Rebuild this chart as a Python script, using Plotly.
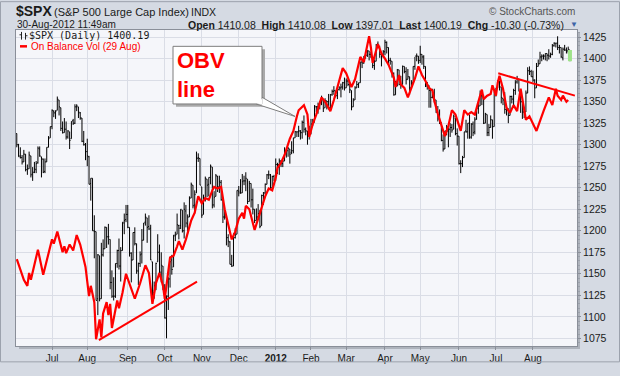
import plotly.graph_objects as go
import pandas as pd

# ---------------- data (S&P 500 daily bars, 3-Jun-2011 .. 30-Aug-2012) ----------------
open_ = [
    # Jun 2011
    1313,1300,1287,1285,1280,1289,1271,1272,1287,1266,1268,1271,1279,1295,1286,1283,1269,1280,1297,1308,
    # Jul 2011
    1321,1339,1337,1340,1352,1343,1319,1314,1318,1309,1315,1307,1328,1325,1344,1344,1337,1331,1304,1300,
    # Aug 2011
    1292,1286,1255,1261,1200,1199,1121,1171,1121,1172,1179,1204,1193,1190,1140,1124,1124,1162,1177,1159,1177,1209,1213,
    # Sep 2011
    1219,1204,1174,1166,1198,1185,1153,1162,1173,1189,1210,1215,1205,1203,1164,1128,1137,1164,1175,1152,1159,
    # Oct 2011
    1131,1098,1124,1144,1166,1158,1194,1196,1206,1206,1224,1200,1223,1208,1216,1238,1253,1230,1244,1284,1284,
    # Nov 2011
    1251,1219,1238,1260,1254,1262,1274,1230,1240,1263,1251,1256,1236,1216,1216,1192,1187,1161,1159,1192,1196,
    # Dec 2011
    1246,1246,1244,1258,1258,1260,1234,1255,1236,1225,1212,1216,1220,1206,1241,1244,1254,1265,1265,1250,1263,
    # Jan 2012
    1258,1277,1277,1281,1278,1281,1292,1293,1295,1291,1293,1308,1315,1315,1316,1314,1326,1318,1316,1313,
    # Feb 2012
    1312,1324,1326,1344,1344,1347,1350,1351,1343,1351,1350,1343,1358,1362,1362,1357,1364,1366,1367,1372,
    # Mar 2012
    1366,1374,1370,1363,1344,1352,1366,1370,1372,1396,1395,1403,1404,1409,1405,1402,1392,1397,1417,1413,1405,1404,
    # Apr 2012
    1408,1419,1413,1398,1397,1383,1358,1368,1387,1370,1370,1391,1385,1376,1379,1366,1372,1391,1403,1403,
    # May 2012
    1398,1405,1402,1391,1368,1369,1363,1355,1354,1352,1338,1330,1325,1305,1295,1316,1316,1318,1320,1318,1331,1313,
    # Jun 2012
    1310,1278,1278,1285,1316,1315,1325,1309,1324,1315,1330,1342,1345,1357,1355,1325,1335,1314,1320,1329,1321,
    # Jul 2012
    1362,1366,1374,1367,1354,1352,1341,1342,1334,1356,1353,1363,1373,1376,1362,1350,1338,1338,1360,1386,1385,
    # Aug 2012
    1379,1375,1366,1391,1394,1402,1403,1403,1406,1404,1403,1405,1415,1418,1418,1413,1413,1401,1411,1410,1409,1410.08,
]
high = [
    1313,1301,1297,1288,1294,1289,1277,1292,1287,1274,1280,1281,1298,1298,1286,1284,1284,1297,1310,1321,
    1341,1340,1340,1356,1352,1343,1327,1331,1327,1317,1315,1327,1330,1347,1347,1344,1338,1331,1316,1302,
    1307,1287,1261,1261,1218,1199,1173,1171,1186,1190,1205,1204,1208,1190,1154,1146,1162,1178,1191,1181,1210,1220,1230,
    1230,1204,1175,1198,1204,1185,1163,1176,1202,1209,1220,1215,1218,1207,1164,1141,1163,1196,1184,1175,1159,
    1138,1125,1146,1165,1172,1195,1199,1220,1207,1225,1224,1233,1230,1219,1240,1256,1253,1247,1292,1290,1284,
    1251,1242,1263,1260,1262,1277,1274,1246,1266,1264,1264,1259,1238,1224,1216,1196,1188,1172,1197,1203,1247,
    1252,1260,1266,1264,1268,1260,1258,1255,1249,1225,1226,1231,1224,1242,1245,1255,1266,1270,1266,1264,1265,
    1284,1279,1284,1282,1282,1297,1294,1297,1295,1304,1308,1316,1315,1322,1317,1328,1334,1320,1316,1322,
    1330,1330,1346,1345,1349,1351,1357,1351,1354,1351,1359,1359,1364,1368,1363,1364,1368,1371,1373,1378,
    1377,1376,1370,1363,1354,1368,1374,1372,1396,1399,1403,1405,1410,1409,1408,1402,1399,1417,1420,1415,1405,1410,
    1422,1420,1413,1401,1397,1384,1374,1388,1387,1380,1392,1391,1390,1388,1379,1375,1391,1402,1406,1403,
    1415,1405,1404,1391,1373,1369,1363,1365,1365,1352,1345,1341,1326,1312,1316,1323,1320,1325,1324,1335,1331,1319,
    1310,1282,1287,1315,1329,1325,1335,1325,1327,1332,1343,1348,1363,1361,1358,1337,1335,1324,1334,1329,1362,
    1366,1375,1374,1367,1354,1361,1345,1342,1357,1357,1365,1375,1380,1376,1362,1351,1344,1363,1390,1391,1387,
    1386,1376,1395,1399,1408,1405,1405,1406,1406,1411,1407,1417,1419,1418,1426,1416,1413,1413,1416,1413,1414,1410.08,
]
low = [
    1297,1286,1284,1277,1280,1269,1265,1272,1262,1258,1267,1267,1278,1286,1262,1267,1267,1280,1297,1308,
    1318,1332,1330,1340,1334,1316,1313,1314,1306,1307,1295,1307,1323,1324,1339,1331,1329,1303,1299,1282,
    1275,1254,1235,1200,1168,1119,1102,1118,1121,1170,1179,1180,1184,1132,1122,1119,1122,1157,1155,1141,1177,1196,1210,
    1203,1170,1140,1166,1183,1150,1137,1158,1162,1189,1206,1186,1201,1166,1115,1121,1131,1164,1150,1140,1131,
    1098,1075,1108,1134,1149,1158,1188,1196,1190,1202,1198,1191,1204,1197,1216,1238,1226,1220,1244,1280,1253,
    1215,1219,1234,1239,1240,1254,1226,1227,1240,1245,1244,1235,1209,1213,1183,1181,1161,1158,1159,1191,1196,
    1240,1243,1244,1253,1246,1231,1234,1227,1219,1209,1212,1215,1203,1206,1230,1242,1254,1260,1248,1250,1258,
    1258,1266,1265,1274,1274,1281,1285,1286,1278,1289,1290,1308,1309,1309,1306,1307,1314,1311,1300,1306,
    1312,1322,1326,1338,1336,1341,1346,1338,1343,1341,1341,1341,1357,1358,1355,1353,1363,1355,1364,1363,
    1366,1368,1360,1340,1344,1352,1366,1366,1372,1389,1394,1400,1402,1398,1401,1389,1387,1397,1412,1401,1391,1401,
    1404,1406,1394,1393,1378,1357,1358,1368,1369,1365,1370,1383,1370,1376,1358,1366,1372,1387,1397,1394,
    1395,1393,1388,1367,1364,1343,1343,1354,1349,1337,1327,1324,1304,1292,1295,1311,1297,1309,1314,1318,1311,1299,
    1277,1267,1274,1285,1314,1307,1307,1307,1310,1312,1329,1336,1345,1346,1324,1325,1310,1310,1320,1307,1321,
    1356,1366,1363,1348,1346,1336,1334,1325,1334,1348,1345,1358,1371,1362,1337,1330,1331,1338,1360,1381,1379,
    1373,1354,1366,1391,1394,1397,1399,1398,1397,1399,1401,1404,1414,1413,1410,1406,1401,1398,1409,1406,1406,1397.01,
]
close = [
    1300,1286,1285,1280,1289,1271,1272,1288,1265,1268,1272,1278,1296,1287,1284,1268,1280,1297,1307,1321,
    1340,1337,1339,1353,1344,1319,1314,1318,1309,1316,1305,1327,1325,1344,1345,1338,1331,1304,1300,1292,
    1287,1254,1261,1200,1199,1119,1172,1121,1172,1179,1204,1193,1193,1140,1124,1124,1162,1177,1159,1177,1210,1212,1219,
    1204,1174,1166,1198,1185,1154,1162,1172,1189,1209,1216,1204,1202,1166,1130,1136,1162,1175,1151,1160,1131,
    1099,1124,1144,1164,1155,1195,1195,1207,1203,1225,1200,1225,1209,1216,1238,1254,1229,1242,1285,1285,1253,
    1218,1237,1261,1253,1262,1275,1230,1239,1264,1251,1257,1236,1216,1216,1192,1188,1161,1159,1192,1195,1247,
    1244,1244,1257,1258,1261,1234,1255,1236,1225,1212,1216,1220,1205,1241,1244,1254,1265,1265,1250,1263,1258,
    1277,1277,1281,1278,1281,1292,1293,1296,1289,1293,1308,1315,1315,1316,1314,1326,1318,1316,1313,1312,
    1324,1325,1345,1344,1347,1350,1352,1342,1351,1350,1343,1358,1362,1363,1357,1364,1366,1367,1372,1366,
    1374,1370,1364,1344,1352,1366,1370,1372,1396,1395,1403,1404,1409,1405,1402,1392,1397,1416,1413,1405,1403,1408,
    1419,1413,1398,1398,1383,1358,1368,1387,1370,1370,1391,1385,1376,1379,1366,1371,1391,1403,1403,1398,
    1405,1402,1391,1369,1369,1363,1355,1357,1353,1338,1330,1325,1305,1295,1316,1316,1318,1320,1317,1333,1313,1310,
    1278,1278,1285,1315,1315,1325,1308,1324,1314,1329,1343,1345,1357,1356,1325,1336,1314,1320,1329,1321,1362,
    1366,1374,1368,1355,1352,1341,1342,1334,1356,1353,1363,1372,1376,1362,1350,1338,1338,1360,1386,1385,1379,
    1375,1366,1391,1394,1402,1403,1403,1406,1404,1403,1405,1415,1418,1418,1413,1413,1402,1411,1410,1409,1411,1400.19,
]

# On Balance Volume (plotted on its own hidden scale), read at trading-day positions
obv_idx = [0,3,4,6,7,8,10,12,15,18,20,21,23,26,27,28,30,32,34,36,39,41,42,44,45,47,48,49,51,52,
           53,54,57,58,60,62,65,67,70,73,75,77,79,81,83,84,87,89,91,92,94,96,99,101,103,105,107,109,
           111,112,114,116,118,120,122,124,126,128,129,130,132,135,137,139,141,143,145,147,148,150,
           152,155,157,159,160,163,165,166,168,170,173,175,178,180,182,183,185,187,190,192,195,197,
           200,201,202,205,207,209,211,214,215,217,218,220,222,224,226,228,230,232,234,236,237,239,
           241,243,245,247,249,251,252,254,256,258,260,262,264,265,267,269,270,272,273,274,276,278,
           280,282,284,286,288,289,291,295,299,302,304,306,307,309,310,312,313]
obv_val = [1167,1147,1143,1136,1151,1143,1162,1178,1149,1173,1190,1185,1199,1175,1182,1174,1184,1177,1195,1184,
           1158,1124,1136,1117,1074,1097,1076,1104,1117,1102,
           1115,1087,1119,1110,1128,1150,1132,1121,1139,1160,1151,1115,1139,1151,1136,1121,1169,1171,1182,1188,
           1178,1190,1212,1221,1240,1232,1238,1236,
           1247,1251,1249,1251,1225,1208,1190,1199,1214,1221,1214,1229,1225,1201,1214,1229,1240,1249,1247,1262,
           1273,1279,
           1288,1307,1316,1333,1340,1346,1335,1309,1324,1335,1355,1350,1339,1352,1367,1372,1389,1383,1367,1376,
           1402,1396,
           1426,1413,1395,1417,1406,1400,1393,1378,1367,1381,1370,1366,1355,1366,1377,1391,1381,1374,1366,1363,
           1351,1336,
           1322,1310,1322,1340,1335,1322,1316,1340,1335,1338,1335,1350,1364,1353,1357,1359,1369,1357,1372,1380,
           1365,1343,
           1337,1346,1339,1365,1343,1329,1333,1316,1339,1355,1346,1365,1357,1352,1357,1350,1352]

# drawn trend lines (bar index, value)
trend_lo_x = [46.6, 102.3]
trend_lo_y = [1073, 1141]
trend_hi_x = [273.3, 316.8]
trend_hi_y = [1383, 1357]

month_labels = ['Jul', 'Aug', 'Sep', 'Oct', 'Nov', 'Dec', '2012', 'Feb', 'Mar', 'Apr', 'May', 'Jun', 'Jul', 'Aug']
y_ticks = [1075, 1100, 1125, 1150, 1175, 1200, 1225, 1250, 1275, 1300, 1325, 1350, 1375, 1400, 1425]

holidays = ['2011-07-04', '2011-09-05', '2011-11-24', '2011-12-26', '2012-01-02', '2012-01-16',
            '2012-02-20', '2012-04-06', '2012-05-28', '2012-07-04']

# ---------------- trading calendar ----------------
dates = [d for d in pd.bdate_range('2011-06-03', '2012-08-30') if d.strftime('%Y-%m-%d') not in holidays]
n = min(len(dates), len(close))
dates = dates[:n]
idx = list(range(n))

tickvals = []
prev = None
for i, d in enumerate(dates):
    key = (d.year, d.month)
    if key != prev:
        if prev is not None:
            tickvals.append(i)
        prev = key
ticktext = ['<b>2012</b>' if t == '2012' else t for t in month_labels][:len(tickvals)]

# ---------------- geometry helpers (pixel -> paper) ----------------
W, H = 620, 376
L, T, R, B = 16, 30, 43, 17
PW, PH = W - L - R, H - T - B


def fx(p):
    return (p - L) / PW


def fy(p):
    return (T + PH - p) / PH


YR = [1066.1, 1433.3]
XR = [-0.45, 318]

fig = go.Figure()

# highlight of the current (intraday) bar
fig.add_trace(go.Scatter(x=[idx[-1], idx[-1]], y=[low[n - 1], high[n - 1]], mode='lines',
                         line=dict(color='#9fe38a', width=4), hoverinfo='skip', showlegend=False))

fig.add_trace(go.Ohlc(x=idx, open=open_[:n], high=high[:n], low=low[:n], close=close[:n],
                      increasing=dict(line=dict(color='#000000', width=1)),
                      decreasing=dict(line=dict(color='#000000', width=1)),
                      tickwidth=0.5, hoverinfo='skip', showlegend=False))

fig.add_trace(go.Scatter(x=obv_idx, y=obv_val, mode='lines', yaxis='y2',
                         line=dict(color='#ff0000', width=2.2), hoverinfo='skip', showlegend=False))

fig.add_trace(go.Scatter(x=trend_lo_x, y=trend_lo_y, mode='lines', yaxis='y2',
                         line=dict(color='#ff0000', width=2), hoverinfo='skip', showlegend=False))
fig.add_trace(go.Scatter(x=trend_hi_x, y=trend_hi_y, mode='lines', yaxis='y2',
                         line=dict(color='#ff0000', width=2), hoverinfo='skip', showlegend=False))

axis_line = '#8a8f99'
fig.update_layout(
    width=W, height=H,
    margin=dict(l=L, r=R, t=T, b=B, pad=0),
    paper_bgcolor='#d5dae3',
    plot_bgcolor='#f5f6fa',
    showlegend=False,
    hovermode=False,
    font=dict(family='Liberation Sans, Arial, sans-serif', size=10, color='#1a1a1a'),
    xaxis=dict(range=XR, tickmode='array', tickvals=tickvals, ticktext=ticktext,
               showgrid=True, gridcolor='#dadde6', gridwidth=1, zeroline=False,
               showline=True, linecolor=axis_line, linewidth=1, mirror=True,
               ticks='outside', ticklen=3, tickcolor='#8a8f99',
               tickfont=dict(family='Liberation Sans, Arial, sans-serif', size=10, color='#1a1a1a'),
               rangeslider=dict(visible=False), fixedrange=True),
    yaxis=dict(range=YR, side='right', tickmode='array', tickvals=y_ticks,
               ticktext=[str(v) for v in y_ticks],
               showgrid=True, gridcolor='#dadde6', gridwidth=1, zeroline=False,
               showline=True, linecolor=axis_line, linewidth=1, mirror=True,
               ticks='outside', ticklen=3, tickcolor='#8a8f99',
               minor=dict(ticks='outside', ticklen=2, dtick=5, tick0=1075, tickcolor='#9aa0aa', showgrid=False),
               tickfont=dict(family='Liberation Sans, Arial, sans-serif', size=10.5, color='#1a1a1a'),
               fixedrange=True),
    yaxis2=dict(range=YR, overlaying='y', visible=False, fixedrange=True),
)

shapes = []
# drop shadow of the chart panel
shapes.append(dict(type='rect', xref='paper', yref='paper', x0=fx(577), x1=fx(580), y0=fy(362), y1=fy(33),
                   fillcolor='#aeb3bc', line=dict(width=0), layer='below'))
shapes.append(dict(type='rect', xref='paper', yref='paper', x0=fx(19), x1=fx(580), y0=fy(362), y1=fy(359),
                   fillcolor='#aeb3bc', line=dict(width=0), layer='below'))
# outer frame
shapes.append(dict(type='rect', xref='paper', yref='paper', x0=fx(0.5), x1=fx(619.5), y0=fy(375.5), y1=fy(0.5),
                   fillcolor='rgba(0,0,0,0)', line=dict(color='#9ca2ad', width=1)))
# legend glyphs
shapes.append(dict(type='line', xref='paper', yref='paper', x0=fx(20), x1=fx(27), y0=fy(47), y1=fy(47),
                   line=dict(color='#ff0000', width=2.5)))
for (xa, ya0, ya1) in [(21.5, 32, 40), (25.5, 33, 40)]:
    shapes.append(dict(type='line', xref='paper', yref='paper', x0=fx(xa), x1=fx(xa), y0=fy(ya1), y1=fy(ya0),
                       line=dict(color='#222', width=1)))
shapes.append(dict(type='line', xref='paper', yref='paper', x0=fx(19.5), x1=fx(21.5), y0=fy(35), y1=fy(35),
                   line=dict(color='#222', width=1)))
shapes.append(dict(type='line', xref='paper', yref='paper', x0=fx(25.5), x1=fx(27.5), y0=fy(36), y1=fy(36),
                   line=dict(color='#222', width=1)))

# callout box
shapes.append(dict(type='rect', xref='paper', yref='paper', x0=fx(176), x1=fx(265), y0=fy(110), y1=fy(50),
                   fillcolor='#a9a9a9', line=dict(width=0)))
shapes.append(dict(type='path', xref='paper', yref='paper',
                   path=f'M {fx(256)},{fy(107)} L {fx(295)},{fy(120)} L {fx(262)},{fy(100)} Z',
                   fillcolor='#ffffff', line=dict(color='#7d7d7d', width=1)))
shapes.append(dict(type='rect', xref='paper', yref='paper', x0=fx(173), x1=fx(262), y0=fy(107), y1=fy(47),
                   fillcolor='#ffffff', line=dict(color='#7d7d7d', width=1)))
shapes.append(dict(type='path', xref='paper', yref='paper',
                   path=f'M {fx(257)},{fy(106.5)} L {fx(262.5)},{fy(107.5)} L {fx(262.5)},{fy(101)} Z',
                   fillcolor='#ffffff', line=dict(width=0)))
fig.update_layout(shapes=shapes)

ann = []


def text(x, y, s, size, color='#1a1a1a', family='Liberation Sans, Arial, sans-serif', xanchor='left'):
    ann.append(dict(xref='paper', yref='paper', x=fx(x), y=fy(y), text=s, showarrow=False,
                    xanchor=xanchor, yanchor='middle', font=dict(family=family, size=size, color=color)))


text(14, 10.5, '<b>$SPX</b>', 14)
text(52, 11, '(S&P 500 Large Cap Index)', 11)
text(189, 11, 'INDX', 10.5)
text(577, 11, '© StockCharts.com', 10, color='#555555', xanchor='right')
text(15, 24.5, '30-Aug-2012 11:49am', 10)
text(566, 24.5, '<b>Open</b> 1410.08  <b>High</b> 1410.08  <b>Low</b> 1397.01  <b>Last</b> 1400.19  '
                 '<b>Chg</b> -10.30 (-0.73%)', 10.5, xanchor='right')
text(568, 24.5, '▼', 8, color='#3d64a8')
text(27, 36, '$SPX (Daily) 1400.19', 10, family='DejaVu Sans Mono, monospace')
text(29, 47, 'On Balance Vol (29 Aug)', 10, color='#ff0000')
ann.append(dict(xref='paper', yref='paper', x=fx(175), y=fy(77), text='<b>OBV<br>line</b>', showarrow=False,
                xanchor='left', yanchor='middle', align='left',
                font=dict(family='Liberation Sans, Arial, sans-serif', size=22, color='#ff0000')))
fig.update_layout(annotations=ann)

fig.write_html('out.html', config={'displayModeBar': False},
               post_script="document.body.style.margin='0';document.body.style.overflow='hidden';")
